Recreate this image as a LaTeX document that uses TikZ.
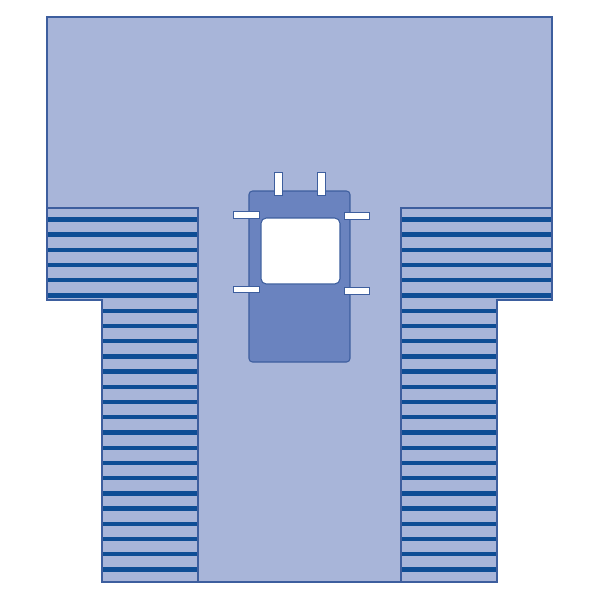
\documentclass[tikz,border=0pt]{standalone}
\usepackage{tikz}
\usepackage{xcolor}
\definecolor{drapefill}{HTML}{A8B5D9}
\definecolor{drapeline}{HTML}{3D5E9E}
\definecolor{stripeblue}{HTML}{0E4D95}
\definecolor{panelfill}{HTML}{6A83BF}

\begin{document}
\begin{tikzpicture}[x=0.02cm,y=-0.02cm]
            \useasboundingbox (0,0) rectangle (600,600);

            % Drape body
            \draw[drapeline,fill=drapefill,line width=0.8pt] (47,17) -- (552,17) -- (552,300) -- (497,300)
                -- (497,582) -- (102,582) -- (102,300) -- (47,300) -- cycle;

            % Left striped panel
            \begin{scope}
                \clip (47,208) -- (198,208) -- (198,582) -- (102,582) -- (102,300) -- (47,300) -- cycle;
                \foreach \i in {0,...,23}
                    \fill[stripeblue] (40,217.2+15.22*\i) rectangle (210,221.6+15.22*\i);
            \end{scope}
            \draw[drapeline,line width=0.6pt] (47,208) -- (198,208) -- (198,582) -- (102,582) -- (102,300) -- (47,300) -- cycle;

            % Right striped panel
            \begin{scope}
                \clip (401,208) -- (552,208) -- (552,300) -- (497,300) -- (497,582) -- (401,582) -- cycle;
                \foreach \i in {0,...,23}
                    \fill[stripeblue] (390,217.2+15.22*\i) rectangle (560,221.6+15.22*\i);
            \end{scope}
            \draw[drapeline,line width=0.6pt] (401,208) -- (552,208) -- (552,300) -- (497,300) -- (497,582) -- (401,582) -- cycle;

            % Incise panel
            \draw[drapeline,fill=panelfill,line width=0.6pt,rounded corners=2pt] (249,191) rectangle (350,362);

            % Window
            \draw[drapeline,fill=white,line width=0.6pt,rounded corners=3pt] (261,218) rectangle (340,284);

            % Tabs
            \draw[drapeline,fill=white,line width=0.5pt] (274,172) rectangle (282,195);
            \draw[drapeline,fill=white,line width=0.5pt] (317,172) rectangle (325,195);
            \draw[drapeline,fill=white,line width=0.5pt] (233,211) rectangle (259,218);
            \draw[drapeline,fill=white,line width=0.5pt] (233,286) rectangle (259,292);
            \draw[drapeline,fill=white,line width=0.5pt] (344,212) rectangle (369,219);
            \draw[drapeline,fill=white,line width=0.5pt] (344,287) rectangle (369,294);
        \end{tikzpicture}
\end{document}
